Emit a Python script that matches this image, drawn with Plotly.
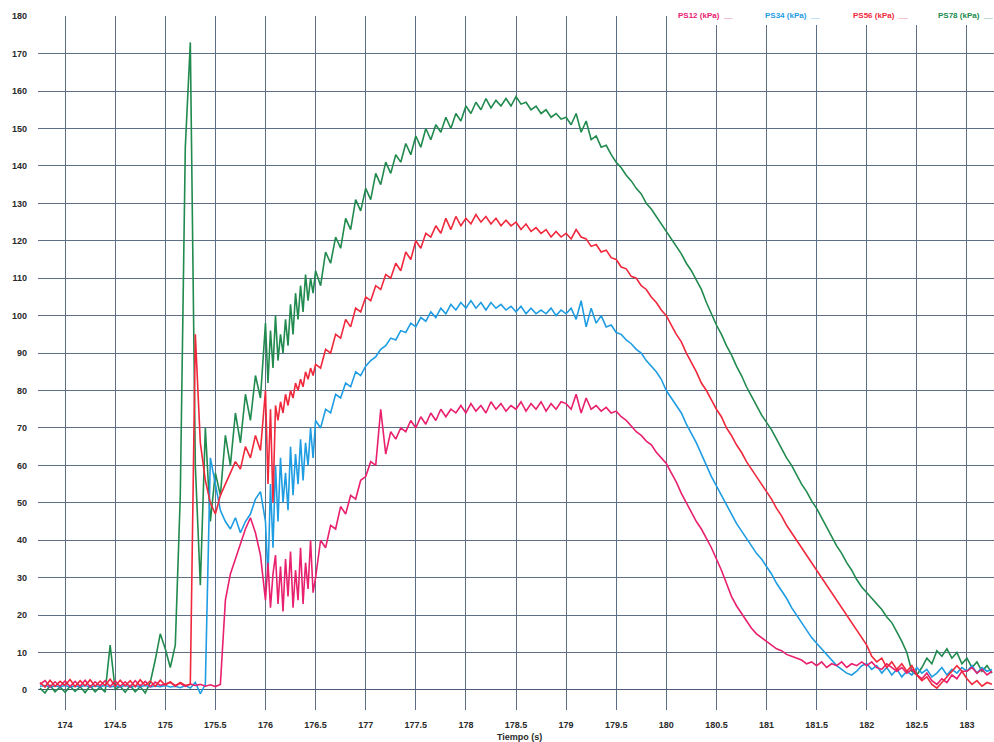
import plotly.graph_objects as go

# sample times (s): 0.05 s step, with a finer 0.025 s step through the noisy 176.0-176.5 s stretch
time_s = ([round(173.75 + 0.05 * i, 3) for i in range(45)]
          + [round(176.0 + 0.025 * i, 3) for i in range(20)]
          + [round(176.5 + 0.05 * i, 3) for i in range(136)])

ps12 = [1.5, 2.5, 0.8, 2.2, 1.0,
        2.4, 0.9, 2.3, 1.0, 2.6, 0.8, 2.2, 1.1, 2.5, 0.9, 2.4, 1.0, 2.2, 0.8, 2.5, 1.1, 2.3, 0.9, 2.1, 1.2,
        1.5, 2.0, 1.2, 1.8, 1.0, 1.6, 1.2, 1.5, 1.0, 1.4, 0.9, 1.5, 24, 31, 35, 39, 43, 46, 42, 36,
        24, 34, 22, 31, 36, 23, 33, 21, 35, 25, 37, 22, 32, 24, 38, 23, 34, 27, 40, 26,
        30, 40, 38, 44, 43, 49, 47, 52, 51, 56,
        57, 61, 60, 75, 63, 69, 67, 70, 69, 72, 70, 73, 71, 74, 72, 75, 73, 75, 74, 76,
        74, 76.5, 74.5, 76, 74, 77, 75, 76.5, 74.5, 76, 75, 77, 74.5, 76.5, 75, 77, 74.5, 76.5, 75, 77,
        76.5, 75, 79, 74, 78, 75, 76, 74.5, 75.5, 74, 74.5, 73, 72, 70.5, 69, 68, 66.5, 65.5, 63.5, 62,
        60.5, 58, 55.5, 52.5, 50, 47.5, 45, 43, 40.5, 38, 35, 32, 28.5, 25, 22.5, 20.5, 18.5, 16.5, 15, 14,
        13, 12, 11, 10.5, 9.5, 9, 8.5, 8, 7, 7.5, 6.5, 7.5, 6, 7, 6.5, 7.5, 6, 7, 6.5, 7.5,
        6.5, 7.5, 6, 5.5, 7, 6, 5, 6, 4.5, 5.5, 4, 3, 4.5, 2.5, 1.5, 3, 2, 4, 3, 5,
        5, 6, 4.5, 5.5, 4, 5]

ps34 = [1.0, 1.2, 0.8, 1.1, 0.9,
        1.2, 0.8, 1.1, 0.9, 1.2, 0.8, 1.1, 0.9, 1.2, 0.8, 1.1, 0.9, 1.2, 0.8, 1.1, 0.9, 1.2, 0.8, 1.1, 0.9,
        1.2, 0.8, 1.0, 0.6, 1.2, 0.5, 2.0, -1.0, 1.5, 62, 55, 48, 45, 43, 46, 42, 45, 47, 51, 53,
        45, 30, 55, 38, 60, 45, 62, 50, 58, 48, 65, 52, 63, 55, 67, 56, 66, 60, 70, 62,
        72, 70, 75, 74, 79, 78, 82, 81, 85, 84,
        86.5, 88, 89, 91, 92, 94, 93.5, 96, 95.5, 98, 97, 99.5, 98.5, 101, 99.5, 102, 100.5, 103, 101.5, 103.5,
        102, 104, 102, 103.5, 101.5, 103.5, 102, 103, 101.5, 102.5, 101, 102.5, 100.5, 102, 100.5, 101.5, 100.5, 102, 100, 101.5,
        100.5, 102, 99, 104, 97, 102, 98, 100, 97, 97.5, 95.5, 95, 93.5, 92.5, 91, 90, 88, 86.5, 85, 83,
        80, 78, 76, 74, 71, 68.5, 66, 63, 60, 57, 54.5, 52, 49.5, 47, 44.5, 42.5, 40.5, 38.5, 36.5, 35,
        33, 31, 28.5, 26.5, 24.5, 22, 20, 18, 16, 14, 12.5, 11, 9.5, 8, 6.5, 5.5, 4.5, 4, 5, 6.5,
        7, 5.5, 6.5, 4.5, 6, 4, 5.5, 3.5, 5, 4, 6, 4.5, 5.5, 3.5, 4.5, 6, 4, 5.5, 4.5, 6,
        5, 6.5, 4.5, 6, 5, 5.5]

ps56 = [2.0, 0.8, 2.6, 1.0, 2.3,
        1.2, 2.8, 0.9, 2.5, 1.1, 2.7, 1.0, 2.4, 1.2, 2.9, 1.0, 2.6, 1.1, 2.5, 0.9, 2.7, 1.2, 2.4, 1.0, 2.6,
        1.3, 2.2, 1.0, 2.0, 1.2, 1.5, 95, 66, 56, 50, 47, 52, 55, 58, 61, 59, 65, 62, 68, 64,
        80, 55, 75, 50, 76, 72, 77, 74, 79, 76, 80, 78, 82, 80, 83, 81, 85, 83, 86, 84,
        87, 86, 91, 90, 95, 94, 99, 97, 102, 101,
        105, 104, 108, 107, 111, 110, 114, 112, 117, 115, 120, 118, 122, 121, 124, 122, 126, 123, 126.5, 124,
        126, 124.5, 127, 125, 126.5, 124.5, 126, 124, 125.5, 124, 125, 123, 124.5, 122.5, 123.5, 122, 123, 121, 122.5, 121,
        122, 120.5, 123, 121, 120.5, 118.5, 119, 117, 117.5, 115.5, 115, 113, 112.5, 110.5, 110, 108, 107, 105, 103.5, 101.5,
        100, 97.5, 95, 93, 90, 87.5, 85, 82, 80, 77.5, 75, 73, 70, 68, 65.5, 63.5, 61, 59, 57, 55,
        53, 51, 48.5, 46.5, 44, 42, 40, 38, 36, 34, 32, 30, 28, 26, 24, 22, 20, 18, 16, 14,
        12, 9, 7.5, 8.5, 6, 7.5, 5.5, 7, 5, 6.5, 4, 2.5, 3.5, 1.5, 0.5, 2, 3.5, 5, 6.5, 5,
        3, 1.5, 2.5, 1, 2, 1.5]

ps78 = [0.5, -0.8, 1.2, -0.5, 0.8,
        -0.6, 1.0, -0.4, 0.9, -0.7, 1.1, -0.5, 0.8, -0.6, 12, 0.2, 1.0, -0.6, 1.2, -0.5, 0.9, -0.8, 2, 8, 15,
        11, 6, 12, 52, 145, 173, 60, 28, 70, 45, 58, 52, 68, 60, 74, 66, 79, 72, 84, 78,
        98, 82, 96, 86, 100, 88, 95, 90, 99, 92, 103, 95, 106, 99, 108, 101, 111, 104, 110, 106,
        112, 108, 117, 114, 121, 118, 126, 123, 131, 128,
        134, 131, 138, 135, 141, 138, 143, 141, 146, 143, 148, 145, 150, 147, 151, 149, 153, 150, 154, 152,
        156, 154, 157, 155, 158, 155.5, 157.5, 156, 158, 156, 158.5, 156.5, 157, 155, 156, 154, 155, 153, 154, 152.5,
        153, 151, 154, 149, 152, 147, 148, 145, 145.5, 143, 141, 139.5, 137.5, 136, 134, 132.5, 130, 128.5, 126.5, 124.5,
        122.5, 120.5, 118.5, 116.5, 114, 112, 109.5, 107, 103.5, 100.5, 97.5, 95, 92, 89.5, 86.5, 84, 81, 78.5, 76, 73.5,
        71.5, 69.5, 67, 64.5, 62, 60, 57.5, 55, 53, 50.5, 48.5, 46, 43.5, 41, 38.5, 36.5, 34, 32, 29.5, 27.5,
        26, 24.5, 23, 21.5, 19.5, 18, 15.5, 13, 10, 5, 4, 6, 8.5, 7, 10.5, 9, 11, 8.5, 10, 7,
        8.5, 6, 7.5, 5, 6.5, 4.5]

series_names = ["PS12 (kPa)", "PS34 (kPa)", "PS56 (kPa)", "PS78 (kPa)"]
series_colors = ["#e8206e", "#1f9de3", "#f0283c", "#218a4e"]
series_values = [ps12, ps34, ps56, ps78]

x_ticks = [174 + 0.5 * k for k in range(19)]
y_ticks = list(range(0, 181, 10))

GRID = "#5c6f86"
FONT = "Liberation Sans, Arial, sans-serif"

fig = go.Figure()
for idx in [3, 1, 0, 2]:
    fig.add_trace(go.Scatter(x=time_s, y=series_values[idx], mode="lines",
                             name=series_names[idx],
                             line=dict(color=series_colors[idx], width=1.6),
                             showlegend=False))

W, H = 994, 742
ml, mr, mt, mb = 38, 0, 16, 32
pw, ph = W - ml - mr, H - mt - mb

fig.update_layout(
    width=W, height=H,
    margin=dict(l=ml, r=mr, t=mt, b=mb, pad=0),
    paper_bgcolor="white", plot_bgcolor="white",
    font=dict(family=FONT, color="#2a2a2a"),
    xaxis=dict(range=[173.73, 183.27], tickvals=x_ticks,
               ticktext=[("%g" % v) for v in x_ticks],
               showgrid=True, gridcolor=GRID, gridwidth=1, zeroline=False,
               showline=False, ticks="", ticklabelstandoff=8,
               tickfont=dict(size=9, family=FONT, color="#2a2a2a", weight="bold")),
    yaxis=dict(range=[-5.35, 180.05], tickvals=y_ticks,
               showgrid=True, gridcolor=GRID, gridwidth=1,
               zeroline=True, zerolinecolor="#4a5a78", zerolinewidth=1.3,
               showline=False, ticks="", ticklabelstandoff=10,
               tickfont=dict(size=9, family=FONT, color="#2a2a2a", weight="bold")),
)

# white legend box covering the top-right corner of the grid
fig.add_shape(type="rect", xref="paper", yref="paper",
              x0=(668 - ml) / pw, x1=1.0, y0=1 - 9 / ph, y1=1 + 20 / ph,
              fillcolor="white", line=dict(width=0), layer="above")

legend_x = [676, 763, 851, 936]
for name, col, px in zip(series_names, series_colors, legend_x):
    fig.add_annotation(xref="paper", yref="paper", x=(px - ml) / pw, y=1 + 1 / ph,
                       xanchor="left", yanchor="middle", showarrow=False,
                       text=name + "  __",
                       font=dict(size=8, family=FONT, color=col, weight="bold"))

fig.add_annotation(xref="paper", yref="paper", x=(519 - ml) / pw, y=-(737 - (H - mb)) / ph,
                   xanchor="center", yanchor="middle", showarrow=False,
                   text="Tiempo (s)",
                   font=dict(size=9, family=FONT, color="#2a2a2a", weight="bold"))

fig.write_html("out.html", config={"displayModeBar": False},
               post_script="document.body.style.margin='0';document.body.style.overflow='hidden';")
